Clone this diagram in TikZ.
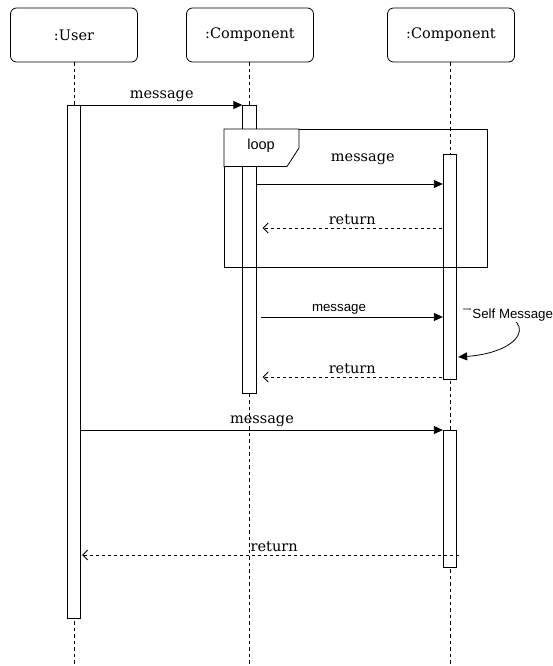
\documentclass[tikz,border=0pt]{standalone}
\usepackage{fontspec}
\setmainfont{DejaVu Serif}
\setsansfont{Liberation Sans}
\usetikzlibrary{arrows.meta,positioning}

\tikzset{
    head/.style={draw, rounded corners=6pt, minimum width=127pt, minimum height=54pt,
        font=\fontsize{14.5}{17}\selectfont},
    bar/.style={draw, fill=white, minimum width=13.5pt, inner sep=0pt, anchor=north},
    life/.style={dash pattern=on 3.5pt off 3pt},
    msg/.style={-{Triangle[length=9pt,width=8pt]}},
    ret/.style={dash pattern=on 3pt off 3pt, -{Straight Barb[length=5pt,width=10pt]}},
    serlbl/.style={font=\fontsize{14.5}{17}\selectfont, inner sep=1pt},
    sanslbl/.style={font=\sffamily\fontsize{13.3}{15}\selectfont, inner sep=1pt}
}

\begin{document}
\begin{tikzpicture}[x=1pt, y=-1pt, line width=0.8pt]
    \useasboundingbox (0,0) rectangle (553,666);

    % heads
    \node[head] at (74, 35)(u){:User};
    \node[head] at (250, 35)(c1){:Component};
    \node[head] at (451, 35)(c2){:Component};

    % rows
    \coordinate (bottom) at (0, 666);
    \coordinate (rl) at (0, 184);
    \coordinate (rlr) at (0, 228);
    \coordinate (rm) at (0, 317);
    \coordinate (rs) at (0, 357);
    \coordinate (rr) at (0, 377);
    \coordinate (rm2) at (0, 430);
    \coordinate (rr2) at (0, 555);
    \coordinate (sm) at (463, 309);

    % lifelines
    \draw[life] (u.south) -- (u.south |- bottom);
    \draw[life] ([xshift=-0.5pt]c1.south) -- ([xshift=-0.5pt]c1.south |- bottom);
    \draw[life] ([xshift=-1pt]c2.south) -- ([xshift=-1pt]c2.south |- bottom);

    % activations
    \node[bar, minimum height=513pt] at (74, 105)(ua){};
    \node[bar, minimum height=288pt] at (249.5, 105)(ca){};
    \node[bar, minimum height=225pt] at (450, 154)(b1){};
    \node[bar, minimum height=137pt] at (450, 430)(b2){};

    % loop frame
    \node[draw, minimum width=263pt, minimum height=138pt, inner sep=0pt, anchor=north west] at (224, 129)(lp){};
    \draw[fill=white] (lp.north west) -- ++(75,0) -- ++(0,19) -- ++(-12,18.5) -- ++(-63,0) -- cycle;
    \node[sanslbl, font=\sffamily\fontsize{14.5}{16}\selectfont] at (261, 146)(lpt){loop};

    \path[msg]
        (ua.north east) edge node[serlbl, above=2pt]{message} (ca.north west)
        (ca.east |- rl) edge node[serlbl, above=18pt, pos=0.57]{message} (b1.west |- rl)
        ([xshift=4pt]ca.east |- rm) edge node[sanslbl, above=1pt, pos=0.43]{message} (b1.west |- rm)
        (ua.east |- rm2) edge node[serlbl, above=2pt]{message} (b2.west |- rm2)
        ;
    \path[ret]
        ([xshift=-1pt]b1.west |- rlr) edge node[serlbl, above=2pt]{return} ([xshift=6pt]ca.east |- rlr)
        ([xshift=-1pt]b1.west |- rr) edge node[serlbl, above=2pt]{return} ([xshift=6pt]ca.east |- rr)
        ([xshift=1.5pt]b2.east |- rr2) edge node[serlbl, above=2pt, pos=0.49]{return} ([xshift=1pt]ua.east |- rr2)
        ;

    % self message
    \draw[msg] (sm) .. controls (545, 309) and (530, 352) .. ([xshift=1pt]b1.east |- rs);
    \node[sanslbl, fill=white, anchor=west] at (471, 315)(sml){Self Message};
\end{tikzpicture}
\end{document}
